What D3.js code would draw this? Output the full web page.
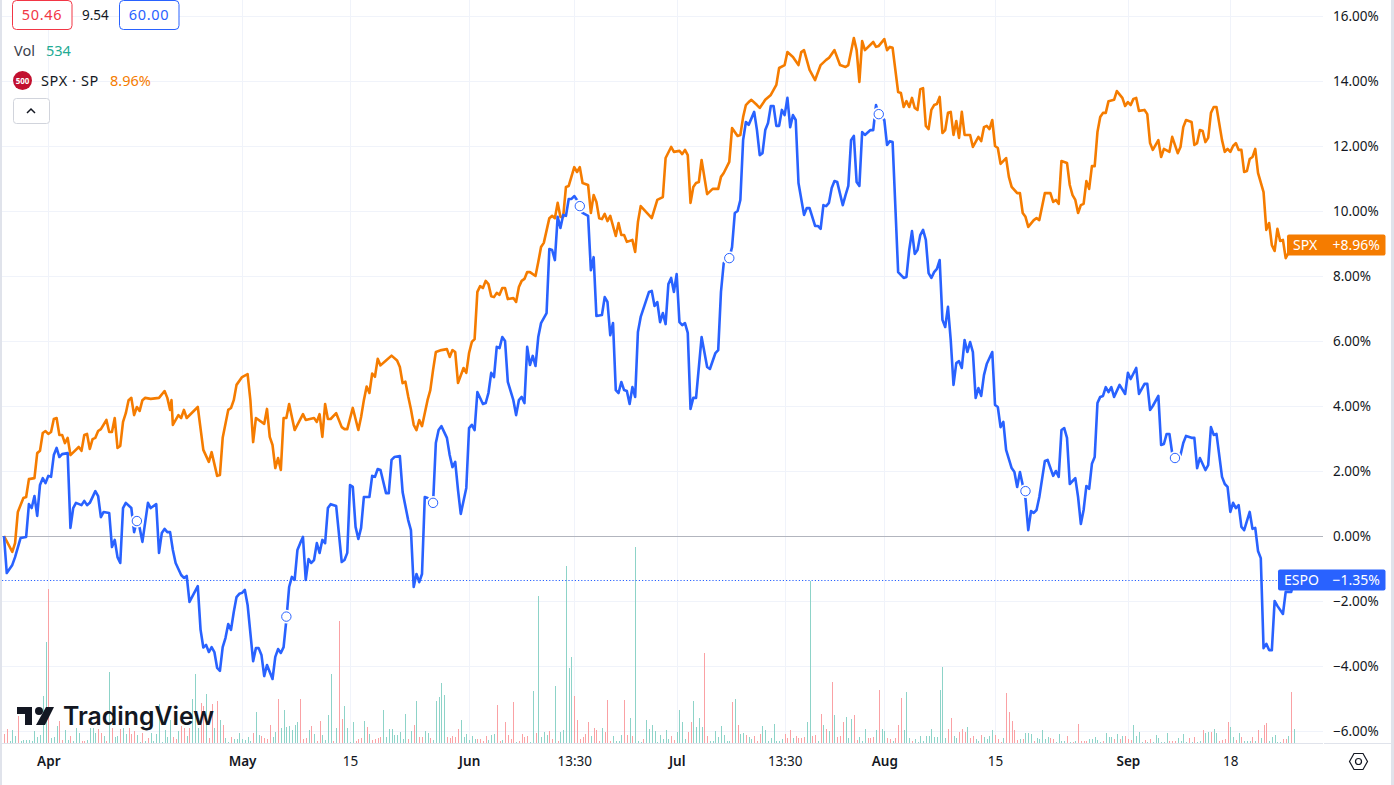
<!DOCTYPE html>
<html><head><meta charset="utf-8"><title>ESPO vs SPX</title>
<script src="https://d3js.org/d3.v7.min.js"></script>
<style>
html,body{margin:0;padding:0;background:#fff}
svg{display:block}
text{font-family:"Noto Sans",sans-serif}
</style></head><body><svg id="c" width="1394" height="785"></svg>
<script>
const lastBar = 466;
const pctTicks = [16,14,12,10,8,6,4,2,0,-2,-4,-6];
const timeBars = [16,86,125,168,206,243,282,318,358,406,443];
const timeLabels = ["Apr","May","15","Jun","13:30","Jul","13:30","Aug","15","Sep","18"];
const monthLabels = ["Apr","May","Jun","Jul","Aug","Sep"];
const dividendBars = [48,102,155,208,262,316,369,423];
const dividendPct = [0.46,-2.48,1.02,10.15,8.55,12.98,1.38,2.40];

const spx = [[0,0],[3,-0.49],[4,-0.22],[5,0.74],[7,1.17],[8,1.20],[9,1.75],[11,1.78],[12,2.55],[13,2.62],[14,3.17],[15,3.23],[16,3.14],[17,3.20],[18,3.60],[19,3.63],[20,3.11],[21,3.11],[22,2.86],[23,3.02],[24,2.49],[27,2.74],[28,2.62],[29,3.11],[30,3.14],[31,2.68],[32,2.98],[33,3.02],[34,3.23],[35,3.29],[37,3.57],[38,3.20],[39,3.20],[40,3.63],[41,2.71],[42,2.77],[43,3.51],[44,3.78],[45,4.18],[46,4.25],[47,3.72],[48,3.97],[49,3.85],[50,4.18],[51,4.25],[53,4.22],[56,4.25],[58,4.46],[59,4.25],[60,3.88],[60.5,4.18],[61,3.42],[63,3.72],[64,3.63],[65,3.88],[66,3.63],[70,3.97],[72,2.65],[74,2.28],[75,2.58],[77,1.85],[78,1.88],[79,3.02],[81,3.88],[82,3.94],[83,4.18],[84,4.65],[86,4.89],[88,4.98],[89,4.18],[90,2.89],[91,3.63],[94,3.45],[95,3.91],[96,3.05],[97,2.80],[98,2.09],[99,2.40],[100,2.03],[101,3.63],[102,3.63],[103,4.06],[105,3.26],[108,3.75],[109,3.57],[112,3.63],[113,3.51],[114,3.75],[115,3.05],[116,4.06],[117,3.60],[118,3.60],[120,3.78],[122,3.35],[123,3.29],[124,3.29],[126,3.94],[128,3.26],[129,3.66],[130,4.18],[131,4.60],[132,4.40],[133,5.00],[134,4.90],[135,5.45],[136,5.25],[138,5.40],[140,5.55],[142,5.40],[143,5.20],[144,4.70],[145,4.75],[146,4.30],[147,3.90],[148,3.42],[149,3.26],[150,3.57],[151,3.38],[153,4.18],[154,4.49],[155,5.11],[156,5.66],[158,5.72],[160,5.75],[161,5.51],[162,5.72],[163,5.66],[164,4.71],[166,5.17],[167,5.02],[168,5.63],[169,5.97],[170,6.06],[171,7.51],[172,7.69],[173,7.63],[174,7.85],[175,7.75],[176,7.38],[177,7.35],[178,7.48],[179,7.42],[180,7.63],[181,7.63],[182,7.29],[184,7.32],[185,7.20],[186,7.66],[187,7.85],[188,7.91],[189,8.12],[190,8.12],[192,8.00],[193,8.43],[194,8.89],[195,9.02],[197,9.78],[198,9.85],[199,9.78],[200,10.25],[201,9.82],[202,9.82],[203,10.74],[204,10.77],[206,11.35],[207,11.20],[208,11.35],[209,10.86],[211,10.80],[212,9.94],[213,10.49],[214,10.28],[215,9.78],[216,9.75],[217,9.91],[218,9.69],[219,9.85],[221,9.23],[222,9.63],[223,9.26],[224,9.26],[225,9.05],[227,9.11],[228,8.74],[229,9.66],[230,10.15],[234,9.78],[236,10.34],[238,10.43],[239,11.63],[241,11.97],[242,11.82],[244,11.85],[245,11.75],[246,11.88],[247,11.72],[248,10.25],[249,10.74],[250,10.86],[251,10.89],[252,11.57],[254,10.52],[256,10.68],[258,10.68],[259,11.05],[260,11.17],[262,11.51],[263,12.55],[265,12.31],[266,12.34],[267,12.89],[268,13.26],[269,13.35],[270,13.42],[272,13.26],[273,13.17],[275,13.42],[277,13.57],[279,13.88],[280,14.40],[282,14.49],[283,14.89],[285,14.74],[287,14.49],[288,14.89],[289,14.95],[291,14.34],[293,14.03],[295,14.49],[297,14.65],[298,14.71],[300,14.95],[302,14.49],[304,14.43],[305,14.49],[307,15.32],[308,14.95],[309,13.97],[310,15.23],[311,14.95],[314,15.20],[315,15.05],[316,15.08],[318,15.29],[319,14.95],[320,15.05],[321,15.02],[323,13.66],[324,13.63],[325,13.20],[326,13.38],[327,13.20],[328,13.48],[329,13.17],[330,13.11],[331,13.75],[332,13.78],[333,12.62],[334,12.52],[335,13.11],[336,13.26],[337,13.29],[338,13.51],[339,12.40],[340,12.49],[341,13.02],[342,13.05],[343,12.34],[344,12.77],[345,12.25],[346,13.05],[347,12.34],[349,12.34],[350,11.97],[352,12.28],[353,12.15],[354,12.58],[355,12.62],[356,12.52],[357,12.80],[358,12.00],[359,11.94],[360,11.45],[362,11.63],[363,11.05],[364,10.74],[366,10.55],[367,10.55],[368,9.94],[369,9.82],[370,9.51],[372,9.72],[373,9.78],[374,9.72],[376,10.55],[378,10.55],[379,10.28],[380,10.34],[381,10.22],[382,11.54],[384,11.48],[385,10.80],[386,10.49],[387,10.34],[388,9.94],[389,10.18],[390,10.22],[391,10.92],[392,10.68],[393,11.38],[394,11.38],[395,12.43],[396,12.89],[397,13.02],[398,13.02],[399,13.38],[401,13.42],[402,13.69],[404,13.48],[405,13.23],[406,13.35],[407,13.26],[408,13.45],[409,13.48],[410,13.08],[412,13.11],[413,12.98],[414,12.09],[415,11.88],[417,12.18],[418,11.66],[419,11.91],[421,11.82],[422,12.28],[424,11.78],[425,11.97],[426,12.58],[427,12.80],[429,12.74],[430,12.03],[431,12.09],[432,12.49],[433,12.46],[434,12.12],[435,12.25],[436,13.02],[437,13.20],[438,13.20],[440,12.18],[441,11.82],[442,11.91],[443,11.82],[444,12.00],[445,12.09],[446,11.88],[447,11.88],[448,11.20],[449,11.23],[450,11.60],[451,11.66],[452,11.91],[453,11.17],[455,10.58],[456,9.42],[457,9.63],[458,8.95],[459,8.77],[460,9.45],[461,9.08],[462,9.11],[463,8.55],[464,8.71],[465,8.71],[466,8.96]];

const espo = [[0,0],[1,-1.14],[3,-0.89],[4,-0.65],[6,-0.06],[8,-0.03],[9,0.98],[10,0.86],[11,1.23],[12,0.62],[13,1.57],[14,1.78],[15,1.63],[16,1.85],[17,1.82],[18,2.49],[19,2.71],[20,2.43],[21,2.52],[23,2.55],[24,0.25],[25,0.86],[26,1.02],[28,0.95],[29,1.08],[30,0.95],[31,1.02],[33,1.38],[34,1.23],[35,0.58],[36,0.74],[38,0.71],[39,-0.34],[40,-0.12],[41,-0.65],[42,-0.83],[43,0.86],[44,1.02],[46,0.86],[47,0.12],[48,0.46],[49,0.25],[50,-0.18],[52,1.02],[53,0.86],[55,0.98],[56,-0.52],[57,0.09],[58,0.22],[59,0.12],[60,0.12],[61,-0.43],[62,-0.83],[64,-1.20],[65,-1.29],[66,-1.23],[67,-2.03],[70,-1.54],[71,-2.88],[72,-3.43],[73,-3.35],[74,-3.57],[75,-3.42],[76,-3.57],[77,-4.06],[78,-4.15],[79,-3.42],[80,-3.14],[81,-2.71],[82,-2.89],[83,-2.34],[84,-1.88],[85,-1.78],[86,-1.75],[87,-1.66],[88,-2.12],[90,-3.85],[91,-3.45],[92,-3.45],[93,-3.66],[94,-4.31],[95,-3.97],[97,-4.40],[98,-3.72],[99,-3.48],[100,-3.60],[101,-3.42],[102,-2.58],[103,-1.57],[104,-1.26],[105,-1.35],[106,-0.43],[107,-0.22],[108,-0.03],[109,-1.35],[110,-0.71],[111,-0.83],[112,-0.74],[113,-0.22],[114,-0.52],[115,-0.12],[116,-0.22],[117,0.86],[118,0.98],[120,0.92],[122,-0.80],[123,-0.74],[124,-0.52],[125,1.57],[126,1.51],[127,0.28],[128,-0.09],[129,0.25],[130,1.20],[132,1.20],[133,1.85],[134,1.82],[135,2.06],[136,2.03],[138,1.32],[139,1.32],[140,2.34],[141,2.43],[143,2.46],[144,1.35],[146,0.49],[147,0.18],[148,-1.57],[149,-1.17],[150,-1.42],[151,-1.17],[152,1.20],[153,1.17],[155,1.02],[156,2.86],[157,3.26],[158,3.38],[160,3.02],[161,2.49],[162,2.12],[163,2.28],[164,1.42],[165,0.68],[167,1.48],[168,3.32],[169,3.42],[170,3.26],[171,4.43],[173,4.06],[174,4.09],[175,4.40],[176,5.02],[177,4.89],[178,5.82],[179,5.78],[180,6.12],[181,6.00],[182,4.74],[184,4.18],[185,3.72],[186,4.18],[187,4.28],[188,4.09],[189,5.82],[190,5.26],[191,5.54],[192,5.23],[193,6.12],[194,6.55],[196,6.86],[197,8.83],[198,8.80],[199,8.49],[200,9.82],[201,9.48],[202,9.88],[203,9.85],[204,10.37],[205,10.37],[206,10.46],[207,10.34],[208,10.15],[209,9.94],[211,9.85],[212,8.18],[213,8.58],[214,6.77],[216,6.80],[217,7.35],[218,7.20],[219,6.18],[220,6.55],[221,4.49],[222,4.40],[223,4.74],[224,4.49],[225,4.46],[226,4.06],[227,4.58],[228,4.28],[229,6.28],[230,6.74],[233,7.51],[234,7.54],[235,7.08],[236,7.20],[237,6.58],[238,6.86],[239,6.52],[240,7.75],[241,7.94],[242,7.51],[243,8.06],[244,6.58],[245,6.49],[246,6.55],[247,6.25],[248,3.91],[249,4.25],[250,4.25],[252,6.12],[254,5.20],[255,5.14],[257,5.63],[258,5.72],[259,7.51],[260,8.40],[262,8.55],[263,8.89],[264,9.94],[265,10.00],[266,10.34],[267,12.18],[268,12.74],[269,12.65],[271,13.05],[272,12.49],[273,11.72],[274,11.78],[275,12.49],[276,12.71],[277,13.23],[278,13.23],[279,12.62],[280,12.62],[281,13.11],[282,12.95],[283,13.48],[284,12.58],[285,12.95],[286,12.80],[287,10.86],[289,9.88],[290,10.09],[291,10.09],[293,9.54],[294,9.54],[295,9.45],[296,10.18],[297,10.15],[298,10.25],[299,10.71],[300,10.92],[301,10.89],[303,10.18],[304,10.49],[305,10.77],[306,12.18],[307,12.31],[308,10.89],[309,10.77],[310,12.43],[311,12.34],[313,12.49],[314,12.49],[315,13.26],[316,12.98],[318,12.80],[319,12.03],[320,12.15],[321,12.12],[323,8.12],[325,7.94],[326,7.97],[327,8.80],[328,9.38],[329,8.68],[330,8.80],[331,9.26],[332,9.42],[333,9.11],[334,8.09],[335,7.94],[336,8.12],[337,8.22],[338,8.49],[339,6.65],[340,6.43],[341,7.05],[342,6.03],[343,4.65],[344,5.32],[345,5.38],[346,5.17],[347,6.03],[348,5.66],[349,5.97],[350,5.66],[351,4.25],[352,4.55],[353,4.31],[354,4.95],[355,5.29],[357,5.66],[358,4.03],[359,3.97],[360,3.35],[361,3.51],[362,2.65],[364,2.09],[365,1.97],[366,1.51],[367,1.97],[368,1.57],[369,1.14],[370,0.18],[371,0.77],[372,0.71],[373,0.80],[374,1.20],[376,2.31],[377,2.34],[379,1.85],[380,2.00],[381,1.82],[382,3.26],[383,3.32],[384,3.02],[385,1.60],[387,1.78],[388,1.20],[389,0.37],[390,0.80],[391,1.54],[392,1.45],[393,2.22],[394,2.43],[395,4.09],[396,4.28],[397,4.31],[398,4.58],[399,4.43],[400,4.58],[401,4.28],[403,4.65],[405,4.37],[406,5.02],[407,4.83],[409,5.17],[410,4.37],[412,4.68],[413,4.68],[414,3.88],[415,4.00],[417,4.31],[418,2.80],[419,2.83],[420,3.14],[421,3.14],[422,2.55],[423,2.40],[425,2.49],[426,2.86],[427,3.08],[429,3.02],[430,3.02],[431,2.09],[432,2.40],[434,2.03],[435,2.18],[436,3.35],[437,3.11],[438,3.14],[440,1.82],[441,1.60],[442,1.51],[443,0.74],[444,1.02],[445,0.86],[446,0.95],[447,0.28],[448,0.18],[450,0.74],[451,0.22],[452,0.25],[453,-0.46],[454,-0.68],[455,-3.45],[456,-3.32],[457,-3.51],[458,-3.51],[459,-2.00],[460,-2.15],[462,-2.40],[463,-1.72],[465,-1.72],[466,-1.35]];

// Volume per bar: positive = up bar, negative = down bar.
const volumeA = [-350,-540,60,500,250,-1000,60,120,100,120,60,440,220,310,1750,3800,-5770,190,220,620,-810,-100,470,120,-280,60,560,370,-60,-60,120,560,560,370,-520,-370,280,-90,2670,-560,220,280,-520,560,350,-560,-350,-440,310,40,-370,60,-190,370,60,350,1460,40,500,220,870,-220,-150,460,-650,-560,250,-560,1650,2600,560,-1500,-1370,1850,-190,-1470,560,-1590,870,-690,190,40,-220,150,150,370,150,120,220,60,-370,1170,310,-250,-190,-150,-660,220,400,-1660,560,1250,590,620,500,690,770,-1660,-160,-190,470,-620,350,-60,-840,310,100,1060,2600,-60,560,-4590,-910,1400,560,40,770,-60,-150,-190,840,-600,350,-120,-150,-190,-220,1250,220,540,540,310,310,410,160,1100,-150,440,-660,1590,-220,-220,440,370,-190,120,1560,1710,2260,1810,-220,-150];
const volumeB = [-190,-280,-210,-540,870,225,350,125,275,160,-160,-160,-90,-275,125,310,350,-1440,-60,125,-800,-310,-160,-1550,40,-90,-350,-210,-275,40,1960,-375,5510,210,400,310,-440,-160,2125,-90,400,475,6640,2810,3225,-1750,-875,-160,-210,-350,-775,275,-560,-475,-60,575,-400,-1625,-60,275,90,60,310,-1625,-310,950,-250,7350,90,40,-160,875,540,690,440,40,310,160,500,160,-275,-125,425,1250,775,160,-425,-800,1590,610,950,610,-3375,-275,90,90,460,240,650,310,90,90,-1550,1660,-690,350,390,-310,240,160,-275,-90,-350,650,500,90,200,725,90,90,160,-350,-200,-500,200,-275,-200,-200,-240,800,6080,-275,-310,90,-1100,690,-540,460,-2300,1060,-240,-275,-800,990,200,910,-1060,-125,240,90,540,-200,-200,-240,500,-2000,540,460,-200,-160,90,-200,-690,500];
const volumeC = [-1700,500,1925,200,-90,160,50,275,90,275,275,540,240,240,2000,2860,200,-540,-950,275,200,-425,-540,-425,610,-200,-275,160,90,-310,240,160,275,500,-310,-160,-50,200,-1890,-1175,-840,-500,-125,160,-160,390,390,350,-90,200,160,500,160,240,-200,-160,50,350,90,90,-275,50,-50,90,-725,-90,-90,-90,160,160,240,125,50,-90,390,240,240,-160,350,-160,275,-275,-160,-125,690,275,425,50,-125,50,-160,50,310,200,50,50,390,-90,-90,-90,200,90,350,50,-200,50,-240,50,90,-500,390,425,-425,540,390,-90,-125,-160,-800,610,240,-125,390,-240,90,90,90,-240,90,-500,200,-690,-760,90,240,310,50,50,-160,-160,275,-1925,534];
const volumeStarts = [0,161,324];

const W = 1394, H = 785;
const svg = d3.select("#c");
const x = d3.scaleLinear().domain([0,lastBar]).range([4,1294]);
const y = d3.scaleLinear().domain([0,16]).range([536,16]);
const v = d3.scaleLinear().domain([0,7500]).range([743,543]);
const ink = "#131722", blue = "#2962ff", orange = "#f57c00";

// frame strips
svg.append("rect").attr("x",0).attr("y",0).attr("width",2).attr("height",H).attr("fill","#e0e3eb");
svg.append("rect").attr("x",1391).attr("y",0).attr("width",3).attr("height",H).attr("fill","#e0e3eb");

// grid
svg.append("g").selectAll("line").data(pctTicks.filter(d=>d!==0)).join("line")
  .attr("x1",2).attr("x2",1323).attr("y1",d=>Math.round(y(d))+.5).attr("y2",d=>Math.round(y(d))+.5)
  .attr("stroke","#f0f3fa");
svg.append("g").selectAll("line").data(timeBars).join("line")
  .attr("x1",d=>Math.round(x(d))+.5).attr("x2",d=>Math.round(x(d))+.5).attr("y1",0).attr("y2",743)
  .attr("stroke","#f0f3fa");
svg.append("line").attr("x1",2).attr("x2",1323).attr("y1",536.5).attr("y2",536.5).attr("stroke","#b2b5be");
svg.append("line").attr("x1",2).attr("x2",1323).attr("y1",743.5).attr("y2",743.5).attr("stroke","#e0e3eb");
svg.append("line").attr("x1",1324).attr("x2",1391).attr("y1",743.5).attr("y2",743.5).attr("stroke","#e0e3eb");

// volume
const volumeRows = [volumeA,volumeB,volumeC].flatMap((arr,s)=>arr.map((d,i)=>({bar:volumeStarts[s]+i,vol:Math.abs(d),up:d>=0})));
svg.append("g").attr("shape-rendering","crispEdges").selectAll("rect").data(volumeRows).join("rect")
  .attr("x",d=>Math.round(x(d.bar))).attr("width",1)
  .attr("y",d=>v(d.vol)).attr("height",d=>743-v(d.vol))
  .attr("fill",d=>d.up?"#8dd3c8":"#faa1a4");

// last-value line
const lastEspo = espo[espo.length-1][1], lastSpx = spx[spx.length-1][1];
svg.append("line").attr("x1",2).attr("x2",1280).attr("y1",Math.round(y(lastEspo))+.5).attr("y2",Math.round(y(lastEspo))+.5)
  .attr("stroke",blue).attr("stroke-dasharray","1.2 2");

// series
const line = d3.line().x(d=>x(d[0])).y(d=>y(d[1]));
svg.append("path").datum(spx).attr("d",line).attr("fill","none").attr("stroke",orange).attr("stroke-width",2.6).attr("stroke-linejoin","round");
svg.append("path").datum(espo).attr("d",line).attr("fill","none").attr("stroke",blue).attr("stroke-width",2.6).attr("stroke-linejoin","round");

// dividend markers
const divs = dividendBars.map((b,i)=>[b,dividendPct[i]]);
svg.append("g").selectAll("circle").data(divs).join("circle")
  .attr("cx",d=>x(d[0])).attr("cy",d=>y(d[1])).attr("r",6.8).attr("fill","#fff");
svg.append("g").selectAll("circle").data(divs).join("circle")
  .attr("cx",d=>x(d[0])).attr("cy",d=>y(d[1])).attr("r",4.7).attr("fill","#fff").attr("stroke",blue).attr("stroke-width",1);

// axes
const fmtPct = d => (d<0?"\u2212":"")+Math.abs(d).toFixed(2)+"%";
const yAxis = svg.append("g").attr("transform","translate(1333,0)")
  .call(d3.axisRight(y).tickValues(pctTicks).tickFormat(fmtPct).tickSize(0).tickPadding(0));
yAxis.select(".domain").remove();
yAxis.selectAll("text").attr("font-family",'"Noto Sans",sans-serif').attr("font-size",13.5).attr("fill",ink);

const xAxis = svg.append("g").attr("transform","translate(0,743)")
  .call(d3.axisBottom(x).tickValues(timeBars).tickFormat((d,i)=>timeLabels[i]).tickSize(0).tickPadding(13));
xAxis.select(".domain").remove();
xAxis.selectAll("text").attr("font-family",'"Noto Sans",sans-serif').attr("font-size",13.5)
  .attr("fill",ink).attr("font-weight",function(){return monthLabels.includes(this.textContent)?600:400;});

// price labels
function priceLabel(val,name,left,color){
  const cy = Math.round(y(val));
  svg.append("rect").attr("x",left).attr("y",cy-10.5).attr("width",1385.5-left).attr("height",21).attr("rx",2).attr("fill",color);
  svg.append("text").attr("x",left+6).attr("y",cy+5).attr("font-size",14).attr("fill","#fff").text(name);
  svg.append("text").attr("x",1380).attr("y",cy+5).attr("text-anchor","end").attr("font-size",14).attr("fill","#fff")
    .text((val<0?"\u2212":"+")+Math.abs(val).toFixed(2)+"%");
}
priceLabel(lastSpx,"SPX",1287,orange);
priceLabel(lastEspo,"ESPO",1278,blue);

// legend
function box(x0,y0,w,h,stroke,r){svg.append("rect").attr("x",x0+.5).attr("y",y0+.5).attr("width",w).attr("height",h).attr("rx",r).attr("fill","#fff").attr("stroke",stroke);}
function label(tx,ty,t,fill,anchor,size,weight,spacing){svg.append("text").attr("x",tx).attr("y",ty).attr("fill",fill).attr("text-anchor",anchor||"start").attr("font-size",size||13).attr("font-weight",weight||400).attr("letter-spacing",spacing||0).text(t);}
box(12,0,59.5,29,"#f23645",4); label(42,20,"50.46","#f23645","middle",14.5,400,.7);
label(82,20,"9.54",ink,"start",13.5);
box(119,0,59.5,29,blue,4); label(149,20,"60.00",blue,"middle",14.5,400,.7);
label(14,55.5,"Vol","#3a3e4a","start",14.5);
label(46,55.5,"534","#22ab94","start",14.5);
svg.append("circle").attr("cx",22.5).attr("cy",80.5).attr("r",9.5).attr("fill","#c2102f");
label(22.5,83.5,"500","#fff","middle",8,700);
label(41,85.5,"SPX \u00b7 SP",ink,"start",14.5,400,.6);
label(110,85.5,"8.96%",orange,"start",14.5);
box(13,98,36,25,"#d1d4dc",3);
svg.append("path").attr("d","M27 113l4-4 4 4").attr("fill","none").attr("stroke",ink).attr("stroke-width",1.5);

// settings hexagon
svg.append("path").attr("d","M1349.5 761.5l4.5-8h9l4.5 8-4.5 8h-9z").attr("fill","none").attr("stroke",ink).attr("stroke-width",1.2);
svg.append("circle").attr("cx",1358.5).attr("cy",761.5).attr("r",3).attr("fill","none").attr("stroke",ink).attr("stroke-width",1.2);

// watermark
const logo = svg.append("g").attr("fill",ink);
logo.append("path").attr("d","M17 707H32V725H25V714H17Z");
logo.append("circle").attr("cx",39).attr("cy",711).attr("r",4);
logo.append("path").attr("d","M46 707H54L45 725H36Z");
logo.append("text").attr("x",63).attr("y",725).attr("font-size",25).attr("font-weight",600)
  .attr("style",'font-family:Inter,"Noto Sans",sans-serif').attr("textLength",151).attr("lengthAdjust","spacingAndGlyphs").text("TradingView");
</script></body></html>
